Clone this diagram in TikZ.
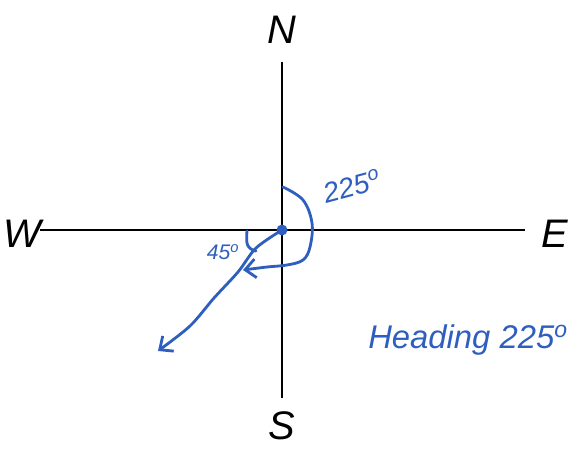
\documentclass[tikz,border=0pt]{standalone}
\usepackage{fontspec}
\setmainfont{Liberation Sans}
\usepackage{tikz}
\usetikzlibrary{arrows.meta, positioning}
\definecolor{inkblue}{RGB}{46,95,190}
\tikzset{
  axis/.style={line width=2.4pt, black},
  pen/.style={line width=2.4pt, inkblue, line cap=round, line join=round},
  compass/.style={font=\fontsize{34}{40}\selectfont\itshape, inner sep=0pt},
  note/.style={text=inkblue, inner sep=0pt},
  arrow/.style={pen, -{Straight Barb[length=9pt, width=16pt, line width=2.4pt]}}
}
\newcommand{\degr}{\textsuperscript{o}}

\begin{document}
\begin{tikzpicture}[x=0.03cm, y=-0.03cm]
        \useasboundingbox (0,0) rectangle (583,450);
        \coordinate (ctr) at (282,230);
        \coordinate (top) at (282,62);
        \coordinate (bot) at (282,398);
        \coordinate (lft) at (40,230);
        \coordinate (rgt) at (525,230);

        \node (north) [compass] at (282,30) {N};
        \node (south) [compass] at (282,426) {S};
        \node (west) [compass] at (22,234) {W};
        \node (east) [compass] at (555,234) {E};

        \draw [axis] (top) -- (bot);
        \draw [axis] (lft) -- (rgt);

        % heading line
        \draw [arrow] plot [smooth, tension=0.5] coordinates {(ctr) (256,248) (238,272) (214,298) (190,326) (158,351)};
        \fill [inkblue] (ctr) circle (5.5);

        % 225 degree turn
        \draw [arrow] plot [smooth, tension=0.6] coordinates {(283,187) (303,200) (312,223) (310,247) (303,260) (287,265) (267,267) (243,270)};
        % 45 degree angle
        \draw [pen] plot [smooth, tension=0.7] coordinates {(247,231) (247,243) (251,249) (256,251)};

        \node (small) [note, font=\fontsize{18}{20}\selectfont\itshape] at (223,252) {45\degr};
        \node (big) [note, font=\fontsize{24}{28}\selectfont\itshape, rotate=15] at (352,186) {225\degr};
        \node (heading) [note, font=\fontsize{28}{32}\selectfont\itshape] at (468,340) {Heading 225\degr};
    \end{tikzpicture}
\end{document}
